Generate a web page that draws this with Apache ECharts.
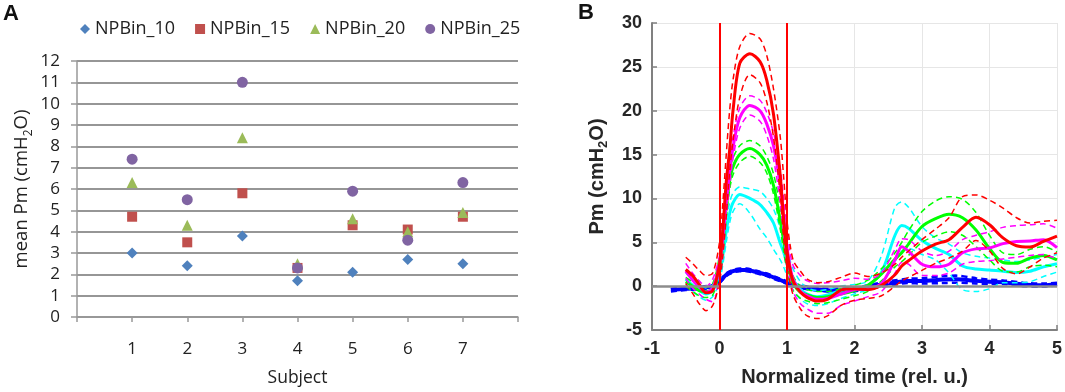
<!DOCTYPE html>
<html>
<head>
<meta charset="utf-8">
<script src="https://cdn.jsdelivr.net/npm/echarts@6/dist/echarts.min.js"></script>
<style>
  html, body { margin: 0; padding: 0; background: #fff; }
  #chart { width: 1065px; height: 392px; }
</style>
</head>
<body>
<div id="chart"></div>
<script>
// ---- panel A: mean Pm per subject ----
const subjects = [1, 2, 3, 4, 5, 6, 7];
const npbin10 = [3.0, 2.4, 3.8, 1.7, 2.1, 2.7, 2.5];
const npbin15 = [4.7, 3.5, 5.8, 2.3, 4.3, 4.1, 4.7];
const npbin20 = [6.3, 4.3, 8.4, 2.5, 4.6, 4.0, 4.9];
const npbin25 = [7.4, 5.5, 11.0, 2.3, 5.9, 3.6, 6.3];

// ---- panel B: Pm traces over normalized time ----
const T = [-0.5, -0.4, -0.3, -0.2, -0.1, 0, 0.05, 0.1, 0.15, 0.2, 0.3, 0.45, 0.6, 0.7, 0.8, 0.9, 0.95, 1, 1.05, 1.1,
  1.2, 1.3, 1.45, 1.6, 1.8, 2, 2.2, 2.4, 2.6, 2.7, 2.8, 3, 3.2, 3.4, 3.6, 3.8, 4, 4.2, 4.4, 4.6, 4.8, 5];

const redMean = [1.9, 1.2, 0.2, -0.75, -0.5, 2.5, 6.5, 11.9, 15.5, 20.0, 25.4, 26.5, 25.6, 23.5, 19.6, 12.6, 7.7, 4.0, 1.7, 0.4,
  -0.7, -1.3, -1.7, -1.5, -0.45, -0.3, -0.4, 0.1, 1.3, 2.3, 2.9, 4.0, 4.8, 5.3, 6.7, 7.85, 7.0, 5.5, 4.6, 4.45, 5.1, 5.7];
const redUp = [3.3, 2.6, 1.8, 1.2, 1.5, 5, 9.5, 15, 20, 23.5, 27.3, 28.8, 28.2, 26.3, 22.5, 17, 12.5, 7.5, 4.5, 2.8,
  1.7, 0.8, 0.4, 0.5, 1.0, 1.5, 1.1, 1.5, 2.5, 3.3, 4.0, 5.3, 6.5, 7.8, 10.2, 10.4, 9.8, 8.9, 7.8, 7.2, 7.4, 7.5];
const redLo = [0.3, -0.8, -2.0, -2.8, -2.2, 0.5, 3.5, 8, 13, 16.5, 21.5, 24.1, 23.2, 21, 17, 10.5, 5.5, 2.0, 0.2, -1.2,
  -2.6, -3.4, -3.7, -3.4, -2.2, -1.6, -1.4, -1.1, 0.0, 0.6, 1.0, 1.8, 2.6, 3.2, 4.0, 5.2, 4.0, 2.0, 1.4, 2.2, 3.2, 3.8];

const magMean = [1.7, 0.7, -0.1, -0.7, -0.2, 2.5, 5.5, 9.5, 13, 15.8, 19.2, 20.6, 20.0, 18.5, 16, 11.5, 8, 4.5, 2.0, 0.6,
  -0.6, -1.1, -1.5, -1.4, -0.9, -0.4, -0.3, 0.3, 3.0, 4.5, 4.0, 2.5, 2.2, 2.5, 3.8, 4.25, 4.35, 4.85, 5.1, 5.15, 5.3, 4.4];
const magUp = [2.6, 1.5, 0.6, 0.0, 0.8, 3.5, 7, 11, 14.5, 17, 20.3, 21.7, 21.2, 19.8, 17.5, 13.5, 10, 6.5, 3.6, 2.2,
  1.2, 0.6, 0.3, 0.4, 0.6, 0.9, 0.8, 1.5, 4.2, 5.4, 5.3, 4.0, 3.5, 4.0, 5.3, 5.8, 6.2, 6.7, 6.9, 7.0, 7.1, 6.6];
const magLo = [0.9, -0.2, -0.9, -1.5, -1.8, 1.2, 4, 8, 11.5, 14.5, 18, 19.5, 18.8, 17.2, 14.5, 9.5, 6, 2.5, 0.5, -0.8,
  -2.0, -2.6, -3.1, -3.1, -2.2, -1.7, -1.2, -0.6, 1.5, 2.7, 2.5, 1.2, 1.2, 1.5, 2.5, 2.8, 2.9, 3.1, 3.3, 3.5, 3.6, 3.1];

const greenMean = [0.5, 0.0, -0.5, -0.6, -0.3, 2.5, 5.5, 9, 12, 13.6, 15.0, 15.7, 15.0, 13.8, 11.5, 7.5, 5.2, 3.0, 1.2, 0.2,
  -0.7, -1.0, -1.3, -1.2, -0.9, -0.5, 0.1, 1.4, 3.1, 3.8, 4.8, 6.8, 7.7, 8.2, 7.8, 6.4, 4.3, 2.7, 2.6, 3.2, 3.5, 3.0];
const greenUp = [1.0, 0.5, 0.0, -0.1, 0.3, 3.5, 7, 10.5, 13.2, 14.6, 16.0, 16.6, 16.0, 14.8, 12.8, 9, 6.6, 4.2, 2.2, 1.0,
  0.0, -0.4, -0.6, -0.6, -0.3, 0.1, 0.7, 2.0, 3.8, 5.0, 6.3, 8.5, 9.7, 10.2, 9.9, 8.4, 5.8, 3.8, 3.6, 4.2, 4.5, 3.9];
const greenLo = [0.0, -0.6, -1.1, -1.3, -1.0, 1.5, 4, 7.8, 11, 12.7, 14.1, 14.8, 14.1, 12.9, 10.5, 6.5, 4.0, 1.8, 0.3, -0.6,
  -1.4, -1.7, -2.0, -1.9, -1.5, -1.1, -0.6, 0.6, 2.2, 2.8, 3.5, 5.0, 5.7, 6.2, 5.8, 4.5, 3.0, 1.7, 1.6, 2.2, 2.4, 2.2];

const cyanMean = [0.8, 0.1, -0.5, -0.9, -0.5, 1.5, 3.5, 6.3, 8.3, 9.5, 10.45, 10.0, 9.3, 8.4, 7.2, 4.9, 3.9, 2.5, 1.4, 0.6,
  -0.4, -0.9, -1.2, -1.0, -0.5, -0.3, 0.1, 1.6, 5.8, 6.9, 6.6, 5.2, 4.3, 3.6, 2.3, 1.95, 1.85, 1.7, 1.55, 1.7, 2.2, 2.55];
const cyanUp = [1.5, 0.8, 0.2, -0.2, 0.2, 2.5, 5, 7.5, 9.5, 10.6, 11.3, 11.1, 10.8, 10.0, 8.8, 6.6, 5.4, 4.2, 2.8, 1.8,
  0.5, -0.2, -0.5, -0.4, 0.0, 0.2, 0.6, 3.5, 9.0, 9.6, 9.0, 6.8, 5.5, 4.8, 3.8, 3.4, 3.2, 3.0, 2.8, 3.0, 3.3, 3.6];
const cyanLo = [0.2, -0.6, -1.2, -1.6, -1.2, 0.5, 2.5, 5, 7.2, 8.5, 9.4, 8.3, 6.5, 5.5, 4.2, 3.0, 2.2, 1.2, 0.2, -0.6,
  -1.5, -2.0, -2.2, -2.0, -1.4, -0.9, -0.4, 0.3, 2.8, 4.0, 4.3, 3.6, 3.0, 1.5, -0.4, -0.6, -0.3, 0.4, 0.4, 0.5, 1.1, 1.6];

const blueT = [-0.72, -0.5, -0.3, -0.1, 0, 0.1, 0.2, 0.3, 0.4, 0.5, 0.6, 0.7, 0.8, 0.9, 1.0, 1.1, 1.3, 1.5, 1.7, 2.0,
  2.2, 2.5, 2.8, 3.0, 3.3, 3.5, 3.8, 4.0, 4.2, 4.5, 4.8, 5.0];
const blueMean = [-0.45, -0.3, -0.2, 0.0, 0.5, 1.3, 1.7, 1.85, 1.85, 1.7, 1.5, 1.3, 1.0, 0.7, 0.4, 0.1, -0.2, -0.4, -0.5, -0.4,
  -0.1, 0.3, 0.6, 0.6, 0.75, 0.8, 0.6, 0.5, 0.45, 0.2, 0.1, 0.25];
const blueUp = [-0.3, -0.15, -0.05, 0.15, 0.65, 1.45, 1.85, 2.0, 2.0, 1.85, 1.65, 1.45, 1.15, 0.85, 0.55, 0.25, -0.05, -0.25, -0.3, -0.2,
  0.1, 0.55, 0.85, 0.9, 1.15, 1.2, 0.9, 0.75, 0.65, 0.4, 0.3, 0.4];
const blueLo = [-0.6, -0.45, -0.35, -0.15, 0.35, 1.15, 1.55, 1.7, 1.7, 1.55, 1.35, 1.15, 0.85, 0.55, 0.25, -0.05, -0.35, -0.55, -0.65, -0.6,
  -0.3, 0.05, 0.35, 0.3, 0.35, 0.4, 0.3, 0.25, 0.25, 0.0, -0.05, 0.1];

const fontA = '"Open Sans", sans-serif';
const fontB = '"Liberation Sans", Arial, sans-serif';

const chart = echarts.init(document.getElementById('chart'), null, { renderer: 'canvas' });

const pts = (xs, ys) => xs.map((x, i) => [x, ys[i]]);

function scatter(name, values, symbol, color, size) {
  return {
    name, type: 'scatter', xAxisIndex: 0, yAxisIndex: 0,
    symbol, symbolSize: size,
    itemStyle: { color, opacity: 1 },
    data: pts(subjects, values)
  };
}

function trace(xs, ys, color, dashed, width) {
  return {
    type: 'line', xAxisIndex: 1, yAxisIndex: 1,
    data: pts(xs, ys),
    showSymbol: false, symbol: 'none',
    smooth: 0.3,
    silent: true,
    lineStyle: { color, width, type: dashed ? [6, 4] : 'solid' }
  };
}

const series = [
  scatter('NPBin_10', npbin10, 'diamond', '#4F81BD', 11),
  scatter('NPBin_15', npbin15, 'rect', '#C0504D', 10),
  scatter('NPBin_20', npbin20, 'triangle', '#9BBB59', 11),
  scatter('NPBin_25', npbin25, 'circle', '#8064A2', 11)
];

const zeroLine = trace(blueT, blueLo, '#0000ff', true, 2.5);
zeroLine.markLine = {
  silent: true, symbol: 'none', label: { show: false },
  lineStyle: { color: '#8c8c8c', width: 2.5, type: 'solid' },
  data: [{ yAxis: 0 }]
};
series.push(zeroLine);
series.push(trace(blueT, blueUp, '#0000ff', true, 2.5));
series.push(trace(blueT, blueMean, '#0000ff', false, 4));

[[cyanLo, cyanUp, cyanMean, '#00ffff'],
 [greenLo, greenUp, greenMean, '#00ff00'],
 [magLo, magUp, magMean, '#ff00ff'],
 [redLo, redUp, redMean, '#ff0000']].forEach(([lo, up, mean, c]) => {
  series.push(trace(T, lo, c, true, 1.5));
  series.push(trace(T, up, c, true, 1.5));
  series.push(trace(T, mean, c, false, 3));
});

const redLine = series[series.length - 1];
redLine.markLine = {
  silent: true, symbol: 'none', label: { show: false },
  lineStyle: { color: '#ff0000', width: 2, type: 'solid' },
  data: [{ xAxis: 0 }, { xAxis: 1 }]
};

chart.setOption({
  animation: false,
  backgroundColor: '#ffffff',
  graphic: [
    { type: 'text', left: 3, top: 3, style: { text: 'A', fontSize: 22, fontWeight: 'bold', fontFamily: fontB, fill: '#111' } },
    { type: 'text', left: 578, top: 2, style: { text: 'B', fontSize: 22, fontWeight: 'bold', fontFamily: fontB, fill: '#111' } }
  ],
  legend: {
    left: 75, top: 15,
    itemWidth: 10, itemHeight: 10, itemGap: 20,
    textStyle: { fontSize: 18, fontFamily: fontA, color: '#222' },
    data: ['NPBin_10', 'NPBin_15', 'NPBin_20', 'NPBin_25']
  },
  grid: [
    { left: 77, right: 547, top: 61, bottom: 73 },
    { left: 652, right: 7, top: 23, bottom: 59 }
  ],
  xAxis: [
    {
      gridIndex: 0, type: 'value', min: 0, max: 8, interval: 1,
      name: 'Subject', nameLocation: 'middle', nameGap: 52,
      nameTextStyle: { fontSize: 17.5, fontFamily: fontA, color: '#222' },
      axisLine: { lineStyle: { color: '#999', width: 1.5 } },
      axisTick: { length: 5, lineStyle: { color: '#999', width: 1.5 } },
      axisLabel: {
        margin: 24, fontSize: 17, fontFamily: fontA, color: '#222',
        formatter: v => (v >= 1 && v <= 7 ? String(v) : '')
      },
      splitLine: { show: false }
    },
    {
      gridIndex: 1, type: 'value', min: -1, max: 5, interval: 1,
      name: 'Normalized time (rel. u.)', nameLocation: 'middle', nameGap: 37,
      nameTextStyle: { fontSize: 20, fontWeight: 'bold', fontFamily: fontB, color: '#262626' },
      axisLine: { onZero: false, lineStyle: { color: '#808080', width: 2 } },
      axisTick: { inside: true, length: 5, lineStyle: { color: '#808080', width: 1.5 } },
      axisLabel: { margin: 10, fontSize: 18, fontWeight: 'bold', fontFamily: fontB, color: '#262626' },
      splitLine: { show: true, lineStyle: { color: '#e6e6e6', width: 1 } }
    }
  ],
  yAxis: [
    {
      gridIndex: 0, type: 'value', min: 0, max: 12, interval: 1,
      name: 'mean Pm (cmH{s|2}O)', nameLocation: 'middle', nameGap: 42,
      nameTextStyle: {
        fontSize: 18.5, fontFamily: fontA, color: '#222', lineHeight: 26,
        rich: { s: { fontSize: 12, fontFamily: fontA, color: '#222', verticalAlign: 'bottom', lineHeight: 26 } }
      },
      axisLine: { show: true, lineStyle: { color: '#999', width: 1.5 } },
      axisTick: { show: true, length: 6, lineStyle: { color: '#999', width: 1.5 } },
      axisLabel: { margin: 17, fontSize: 17, fontFamily: fontA, color: '#222' },
      splitLine: { show: true, lineStyle: { color: '#969696', width: 1.8 } }
    },
    {
      gridIndex: 1, type: 'value', min: -5, max: 30, interval: 5,
      name: 'Pm (cmH{s|2}O)', nameLocation: 'middle', nameGap: 42,
      nameTextStyle: {
        fontSize: 20, fontWeight: 'bold', fontFamily: fontB, color: '#262626', lineHeight: 26,
        rich: { s: { fontSize: 13, fontWeight: 'bold', fontFamily: fontB, color: '#262626', verticalAlign: 'bottom', lineHeight: 26 } }
      },
      axisLine: { show: true, onZero: false, lineStyle: { color: '#808080', width: 2 } },
      axisTick: { show: true, inside: true, length: 5, lineStyle: { color: '#808080', width: 1.5 } },
      axisLabel: { margin: 10, fontSize: 18, fontWeight: 'bold', fontFamily: fontB, color: '#262626' },
      splitLine: { show: true, lineStyle: { color: '#e6e6e6', width: 1 } }
    }
  ],
  series
});
</script>
</body>
</html>
